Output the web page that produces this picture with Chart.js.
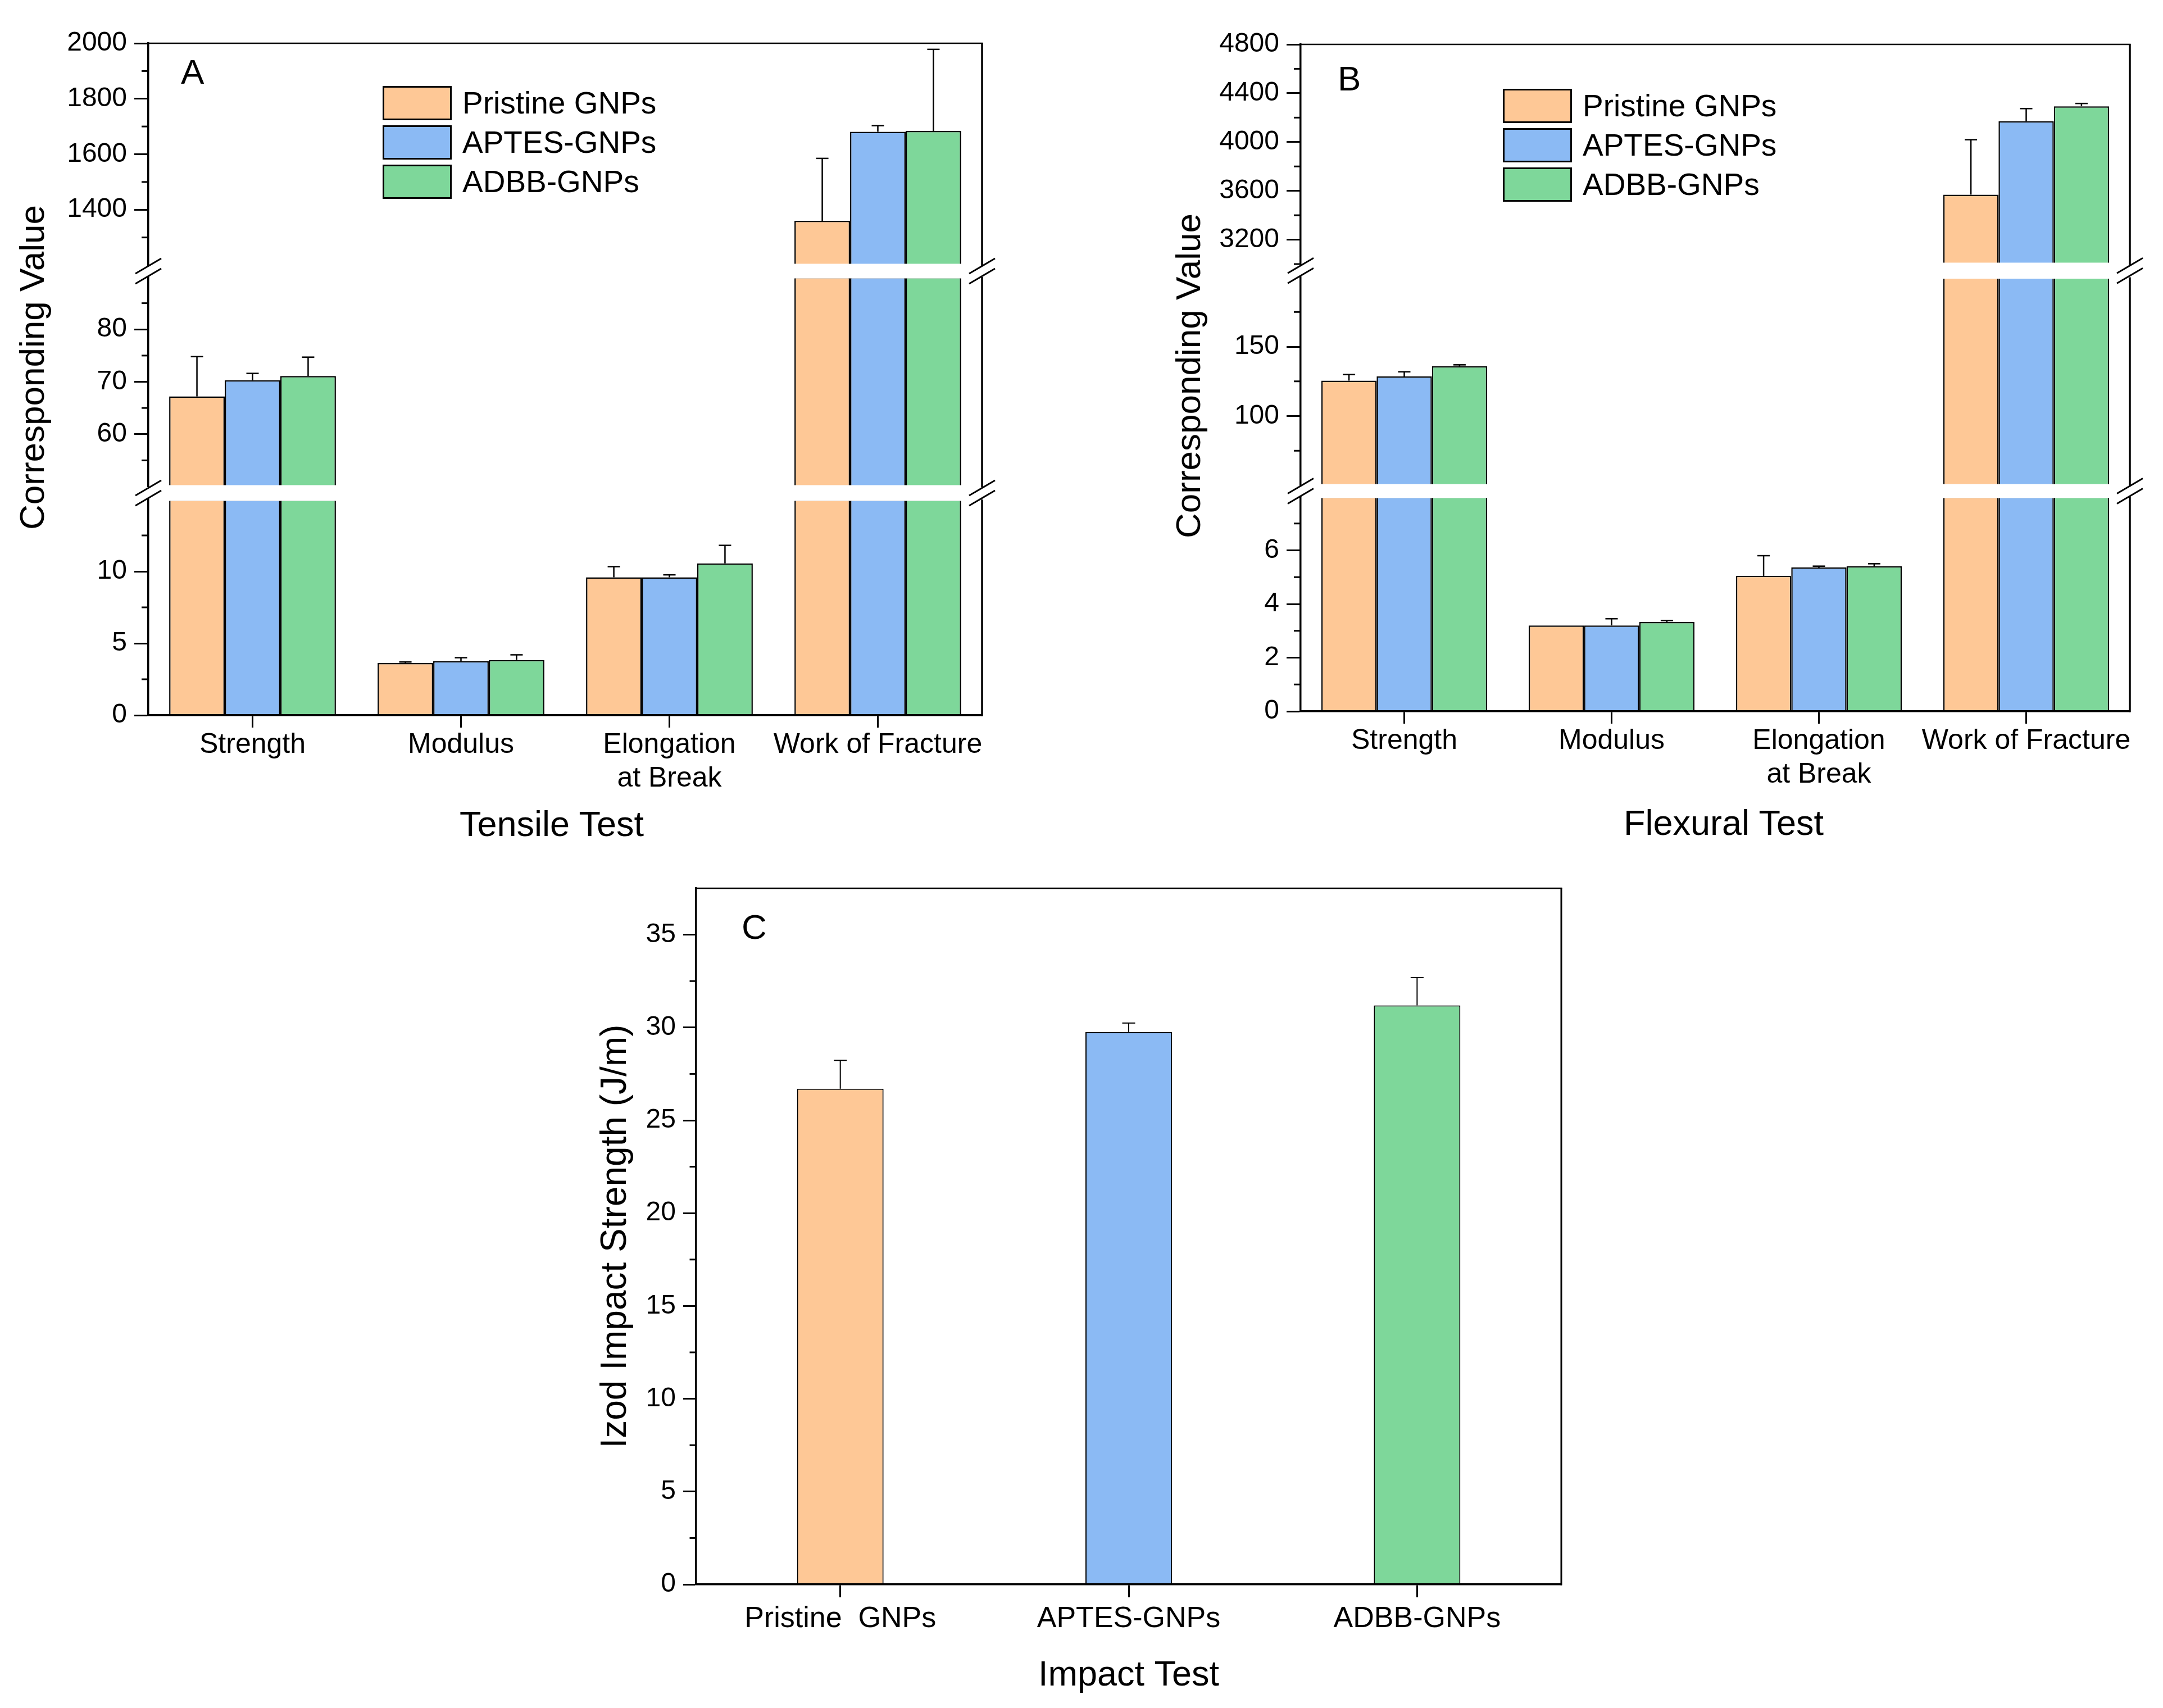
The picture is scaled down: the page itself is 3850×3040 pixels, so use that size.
<!DOCTYPE html>
<html>
<head>
<meta charset="utf-8">
<script src="https://cdn.jsdelivr.net/npm/chart.js@4.4.1/dist/chart.umd.min.js"></script>
<style>
  html, body { margin: 0; padding: 0; background: #fff; }
  body { width: 3850px; height: 3040px; position: relative; overflow: hidden; font-family: "Liberation Sans", Arial, sans-serif; color: #000; }
  .panel { position: absolute; }
  .txt { position: absolute; white-space: nowrap; line-height: 1; }
  .center { transform: translate(-50%, -50%); }
  .vertical { transform: translate(-50%, -50%) rotate(-90deg); }
  .legend { position: absolute; }
  .legend-row { position: absolute; left: 0; height: 61px; display: flex; align-items: center; white-space: nowrap; }
  .legend-box { box-sizing: border-box; width: 123px; height: 61px; border: 3px solid #000; margin-right: 19px; }
  .legend-row span { font-size: 55px; line-height: 1; }
</style>
</head>
<body>
<div class="panel" style="left:0;top:0;width:1800px;height:1500px"><canvas id="tensileChart"></canvas></div>
<div class="panel" style="left:1900px;top:0;width:1950px;height:1500px"><canvas id="flexuralChart"></canvas></div>
<div class="panel" style="left:1000px;top:1500px;width:1900px;height:1540px"><canvas id="impactChart"></canvas></div>

<div class="txt vertical" style="left:57px;top:654px;font-size:62px">Corresponding Value</div>
<div class="txt vertical" style="left:2115px;top:669px;font-size:62px">Corresponding Value</div>
<div class="txt center" style="left:982px;top:1466px;font-size:63px">Tensile Test</div>
<div class="txt center" style="left:3068px;top:1464px;font-size:63px">Flexural Test</div>
<div class="txt" style="left:322px;top:97px;font-size:62px">A</div>
<div class="txt" style="left:2381px;top:109px;font-size:62px">B</div>
<div class="txt" style="left:1320px;top:1619px;font-size:62px">C</div>
<div class="legend" id="legendA" style="left:681px;top:153px"></div>
<div class="legend" id="legendB" style="left:2675px;top:158px"></div>

<script>
// ---- data ----
const categories = ["Strength", "Modulus", ["Elongation", "at Break"], "Work of Fracture"];
const seriesNames = ["Pristine GNPs", "APTES-GNPs", "ADBB-GNPs"];
const seriesColors = ["#fec896", "#8bbaf4", "#7ed79a"];

// A: tensile test
const tensilePristine = [67.2, 3.63, 9.59, 1360];
const tensileAptes = [70.3, 3.76, 9.59, 1681];
const tensileAdbb = [71.1, 3.84, 10.56, 1684];
const tensilePristineErr = [7.6, 0.07, 0.74, 225];
const tensileAptesErr = [1.3, 0.24, 0.17, 22];
const tensileAdbbErr = [3.6, 0.36, 1.25, 294];
const tensileRanges = [[0, 15], [50, 90], [1200, 2000]];
const tensileTicks = [[0, 5, 10], [60, 70, 80], [1400, 1600, 1800, 2000]];
const tensileMinor = [[2.5, 7.5, 12.5], [55, 65, 75, 85], [1300, 1500, 1700, 1900]];

// B: flexural test
const flexPristine = [125.5, 3.2, 5.05, 3569];
const flexAptes = [128.5, 3.2, 5.36, 4171];
const flexAdbb = [135.9, 3.33, 5.41, 4293];
const flexPristineErr = [4.4, 0, 0.75, 450];
const flexAptesErr = [3.4, 0.25, 0.05, 103];
const flexAdbbErr = [1.0, 0.05, 0.09, 23];
const flexRanges = [[0, 8], [50, 200], [3000, 4800]];
const flexTicks = [[0, 2, 4, 6], [100, 150], [3200, 3600, 4000, 4400, 4800]];
const flexMinor = [[1, 3, 5, 7], [75, 125, 175], [3000, 3400, 3800, 4200, 4600]];

// C: impact test
const impactLabels = ["Pristine  GNPs", "APTES-GNPs", "ADBB-GNPs"];
const impactValues = [26.7, 29.76, 31.19];
const impactErr = [1.53, 0.48, 1.5];
const impactTicks = [0, 5, 10, 15, 20, 25, 30, 35];
const impactMinor = [2.5, 7.5, 12.5, 17.5, 22.5, 27.5, 32.5];

Chart.defaults.font.family = '"Liberation Sans", Arial, sans-serif';
Chart.defaults.color = "#000";

const segIds = ["yLow", "yMid", "yTop"];
const gapIds = ["gap1", "gap2"];

function line(ctx, x1, y1, x2, y2) {
  ctx.beginPath();
  ctx.moveTo(x1, y1);
  ctx.lineTo(x2, y2);
  ctx.stroke();
}

function errorBar(ctx, x, y0, y1, half) {
  line(ctx, x, y0, x, y1);
  line(ctx, x - half, y1, x + half, y1);
}

// plugin: white break bands, error bars, minor ticks, frame, break marks
function decorPlugin(spec) {
  return {
    id: "decor",
    afterDatasetsDraw(chart) {
      const { ctx, chartArea: a } = chart;
      ctx.save();
      ctx.fillStyle = "#fff";
      spec.gaps.forEach((id) => {
        const g = chart.scales[id];
        ctx.fillRect(a.left + 2, g.top - 2.5, a.width - 4, g.height + 5);
      });
      ctx.strokeStyle = "#000";
      ctx.lineWidth = spec.errWidth;
      spec.drawErrors(chart, ctx);
      ctx.restore();
    },
    afterDraw(chart) {
      const { ctx, chartArea: a } = chart;
      ctx.save();
      ctx.strokeStyle = "#000";
      ctx.lineWidth = 3;
      spec.minor.forEach(([id, vals]) => {
        const s = chart.scales[id];
        vals.forEach((v) => {
          const y = s.getPixelForValue(v);
          line(ctx, a.left, y, a.left - spec.minorLen, y);
        });
      });
      ctx.lineWidth = 2.5;
      line(ctx, a.left - 1.5, a.top, a.right + 1.5, a.top);
      ctx.lineWidth = spec.rightWidth;
      spec.segs.forEach((id) => {
        const s = chart.scales[id];
        line(ctx, a.right, s.top, a.right, s.bottom + 1.5);
      });
      ctx.lineWidth = 3;
      spec.gaps.forEach((id) => {
        const g = chart.scales[id];
        const cy = (g.top + g.bottom) / 2;
        [a.left, a.right].forEach((x) => {
          [-9, 9].forEach((d) => line(ctx, x - 23, cy + d + 13.5, x + 23, cy + d - 13.5));
        });
      });
      ctx.restore();
    },
  };
}

function brokenChart(canvasId, o) {
  const datasets = [];
  o.values.forEach((vals, s) => {
    o.ranges.forEach(([lo, hi], k) => {
      datasets.push({
        label: seriesNames[s],
        stack: seriesNames[s],
        yAxisID: segIds[k],
        series: s,
        seg: k,
        data: vals.map((v) => (v > lo ? [lo, Math.min(v, hi)] : null)),
        backgroundColor: seriesColors[s],
        borderColor: "#000",
        borderWidth: 2.5,
        borderSkipped: "start",
        categoryPercentage: 0.8,
        barPercentage: 1,
      });
    });
  });

  const scales = {
    x: {
      type: "category",
      offset: true,
      grid: { offset: false, drawOnChartArea: false, drawTicks: true, tickLength: 22, tickWidth: 3, tickColor: "#000" },
      border: { display: true, color: "#000", width: 3.5, z: 1 },
      ticks: { font: { size: 50, lineHeight: 1.2 }, color: "#000", padding: 1, maxRotation: 0, autoSkip: false },
      afterFit: (s) => { s.height = o.xHeight; },
    },
  };
  // top to bottom: yTop, gap2, yMid, gap1, yLow  (higher weight sits higher)
  const order = [["yTop", 2], ["gap2", null], ["yMid", 1], ["gap1", null], ["yLow", 0]];
  order.forEach(([id, k], i) => {
    const base = { type: "linear", position: "left", stack: "v", stackWeight: o.heights[i], weight: 5 - i };
    if (k === null) {
      scales[id] = Object.assign(base, { display: false, min: 0, max: 1 });
      return;
    }
    scales[id] = Object.assign(base, {
      min: o.ranges[k][0],
      max: o.ranges[k][1],
      stacked: false,
      afterFit: (s) => { s.width = o.yWidth; },
      afterBuildTicks: (s) => { s.ticks = o.ticks[k].map((v) => ({ value: v })); },
      grid: { drawOnChartArea: false, drawTicks: true, tickLength: 25, tickWidth: 3, tickColor: "#000" },
      border: { display: true, color: "#000", width: 3.5, z: 1 },
      ticks: { font: { size: 48 }, color: "#000", padding: 13, autoSkip: false, callback: (v) => String(v) },
    });
  });

  const spec = {
    gaps: gapIds,
    segs: ["yTop", "yMid", "yLow"],
    minor: o.minor.map((vals, k) => [segIds[k], vals]),
    minorLen: 12,
    rightWidth: 3.5,
    errWidth: 2.5,
    drawErrors(chart, ctx) {
      o.values.forEach((vals, s) => {
        vals.forEach((v, j) => {
          const e = o.errors[s][j];
          if (!e) return;
          const k = o.ranges.findIndex(([lo, hi]) => v > lo && v <= hi);
          const di = chart.data.datasets.findIndex((d) => d.series === s && d.seg === k);
          const bar = chart.getDatasetMeta(di).data[j];
          const y = chart.scales[segIds[k]];
          errorBar(ctx, bar.x, y.getPixelForValue(v), y.getPixelForValue(v + e), 11);
        });
      });
    },
  };

  return new Chart(document.getElementById(canvasId), {
    type: "bar",
    data: { labels: categories, datasets },
    options: {
      responsive: true,
      maintainAspectRatio: false,
      animation: false,
      layout: { padding: o.padding },
      plugins: { legend: { display: false }, tooltip: { enabled: false } },
      scales,
    },
    plugins: [decorPlugin(spec)],
  });
}

function buildLegend(id) {
  const el = document.getElementById(id);
  seriesNames.forEach((name, i) => {
    const row = document.createElement("div");
    row.className = "legend-row";
    row.style.top = i * 70 + "px";
    row.innerHTML = '<div class="legend-box" style="background:' + seriesColors[i] + '"></div><span>' + name + "</span>";
    el.appendChild(row);
  });
}

brokenChart("tensileChart", {
  values: [tensilePristine, tensileAptes, tensileAdbb],
  errors: [tensilePristineErr, tensileAptesErr, tensileAdbbErr],
  ranges: tensileRanges,
  ticks: tensileTicks,
  minor: tensileMinor,
  heights: [395, 21, 373, 23, 384],
  yWidth: 264,
  xHeight: 227,
  padding: { top: 77, right: 52, left: 0, bottom: 0 },
});

brokenChart("flexuralChart", {
  values: [flexPristine, flexAptes, flexAdbb],
  errors: [flexPristineErr, flexAptesErr, flexAdbbErr],
  ranges: flexRanges,
  ticks: flexTicks,
  minor: flexMinor,
  heights: [391, 23.5, 370.5, 20, 382],
  yWidth: 415,
  xHeight: 234,
  padding: { top: 79, right: 59, left: 0, bottom: 0 },
});

new Chart(document.getElementById("impactChart"), {
  type: "bar",
  data: {
    labels: impactLabels,
    datasets: [{
      data: impactValues,
      backgroundColor: seriesColors,
      borderColor: "#000",
      borderWidth: 2,
      borderSkipped: "start",
      categoryPercentage: 0.3,
      barPercentage: 1,
    }],
  },
  options: {
    responsive: true,
    maintainAspectRatio: false,
    animation: false,
    layout: { padding: { top: 81, right: 121, left: 0, bottom: 0 } },
    plugins: { legend: { display: false }, tooltip: { enabled: false } },
    scales: {
      x: {
        offset: true,
        grid: { offset: false, drawOnChartArea: false, drawTicks: true, tickLength: 23, tickWidth: 3, tickColor: "#000" },
        border: { display: true, color: "#000", width: 3.5, z: 1 },
        ticks: { font: { size: 52 }, color: "#000", padding: 7, maxRotation: 0, autoSkip: false },
        title: { display: true, text: "Impact Test", font: { size: 63 }, color: "#000", padding: { top: 0, bottom: 20 } },
        afterFit: (s) => { s.height = 220; },
      },
      y: {
        min: 0,
        max: 37.5,
        afterFit: (s) => { s.width = 239; },
        afterBuildTicks: (s) => { s.ticks = impactTicks.map((v) => ({ value: v })); },
        grid: { drawOnChartArea: false, drawTicks: true, tickLength: 23, tickWidth: 3, tickColor: "#000" },
        border: { display: true, color: "#000", width: 3.5, z: 1 },
        ticks: { font: { size: 48 }, color: "#000", padding: 13, autoSkip: false, callback: (v) => String(v) },
        title: { display: true, text: "Izod Impact Strength (J/m)", font: { size: 64 }, color: "#000", padding: { top: 58, bottom: 0 } },
      },
    },
  },
  plugins: [decorPlugin({
    gaps: [],
    segs: ["y"],
    minor: [["y", impactMinor]],
    minorLen: 11.5,
    rightWidth: 3,
    errWidth: 2,
    drawErrors(chart, ctx) {
      const meta = chart.getDatasetMeta(0);
      const y = chart.scales.y;
      impactValues.forEach((v, j) => {
        errorBar(ctx, meta.data[j].x, y.getPixelForValue(v), y.getPixelForValue(v + impactErr[j]), 11.5);
      });
    },
  })],
});

buildLegend("legendA");
buildLegend("legendB");
</script>
</body>
</html>
